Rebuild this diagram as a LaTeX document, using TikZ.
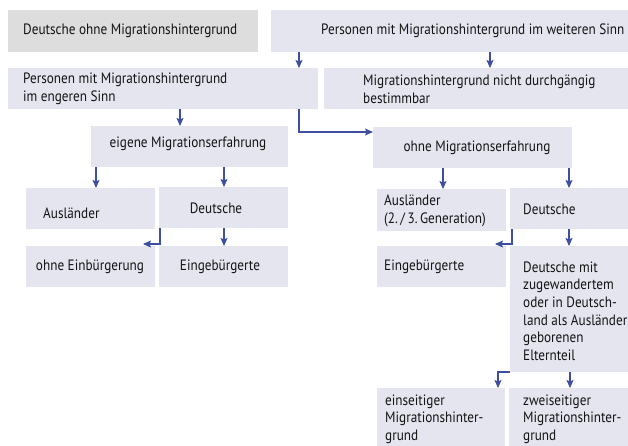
\documentclass[tikz,border=0pt]{standalone}
\usepackage{fontspec}
\setmainfont{PT Sans}[FakeStretch=0.88]
\usetikzlibrary{arrows.meta,calc}
\definecolor{boxfill}{HTML}{E5E5F0}
\definecolor{greyfill}{HTML}{DDDDDD}
\definecolor{arrblue}{HTML}{3D4F9F}
\begin{document}
\begin{tikzpicture}[x=1pt,y=-1pt,
  box/.style={fill=boxfill,draw=none,inner sep=0pt,outer sep=0pt,anchor=north west},
  greybox/.style={box,fill=greyfill},
  txt/.style={inner sep=0pt,align=left,font=\fontsize{15}{17.6}\selectfont,text=black!92},
  arr/.style={draw=arrblue,line width=1.1pt,-{Stealth[length=8pt,width=7pt,inset=1.5pt]}}]
\useasboundingbox (0,0) rectangle (628,446);
% boxes
\node[greybox,minimum width=250pt,minimum height=42pt] (grey) at (8,10) {};
\node[box,minimum width=357pt,minimum height=42pt] (weit) at (271,10) {};
\node[box,minimum width=310pt,minimum height=41pt] (eng) at (8,68) {};
\node[box,minimum width=304pt,minimum height=41pt] (nicht) at (324,68) {};
\node[box,minimum width=197pt,minimum height=41pt] (eig) at (91,126) {};
\node[box,minimum width=199pt,minimum height=41pt] (ohne) at (373,127) {};
\node[box,minimum width=129pt,minimum height=41pt] (ausl) at (26,188) {};
\node[box,minimum width=129pt,minimum height=41pt] (deut) at (159,187) {};
\node[box,minimum width=129pt,minimum height=41pt] (ohneEin) at (26,246) {};
\node[box,minimum width=129pt,minimum height=41pt] (einge) at (159,246) {};
\node[box,minimum width=129pt,minimum height=42pt] (auslG) at (377,189) {};
\node[box,minimum width=118pt,minimum height=41pt] (deutR) at (510,188) {};
\node[box,minimum width=129pt,minimum height=41pt] (eingeR) at (377,246) {};
\node[box,minimum width=118pt,minimum height=126pt] (deutmit) at (510,246) {};
\node[box,minimum width=128pt,minimum height=58pt] (eins) at (377,388) {};
\node[box,minimum width=119pt,minimum height=58pt] (zwei) at (509,388) {};
% texts
\node[txt,anchor=west] (greyT) at (23,31) {Deutsche ohne Migrationshintergrund};
\node[txt,anchor=west] (weitT) at (321,31) {Personen mit Migrationshintergrund im weiteren Sinn};
\node[txt,anchor=west] (engT) at (23,89) {Personen mit Migrationshintergrund\\im engeren Sinn};
\node[txt,anchor=west] (nichtT) at (363,89) {Migrationshintergrund nicht durchgängig\\bestimmbar};
\node[txt] (eigT) at (188,144) {eigene Migrationserfahrung};
\node[txt] (ohneT) at (477,148) {ohne Migrationserfahrung};
\node[txt,anchor=west] (auslT) at (43,213) {Ausländer};
\node[txt] (deutT) at (216,208) {Deutsche};
\node[txt] (ohneEinT) at (90,267) {ohne Einbürgerung};
\node[txt] (eingeT) at (220,267) {Eingebürgerte};
\node[txt,anchor=west] (auslGT) at (384,211) {Ausländer\\(2.\,/\,3.\,Generation)};
\node[txt,anchor=west] (deutRT) at (523,209) {Deutsche};
\node[txt,anchor=west] (eingeRT) at (384,267) {Eingebürgerte};
\node[txt,anchor=west] (deutmitT) at (523,311) {Deutsche mit\\zugewandertem\\oder in Deutsch-\\land als Ausländer\\geborenen\\Elternteil};
\node[txt,anchor=west] (einsT) at (385,419) {einseitiger\\Migrationshinter-\\grund};
\node[txt,anchor=west] (zweiT) at (523,419) {zweiseitiger\\Migrationshinter-\\grund};
% connectors
\draw[arr] (weit.south -| 299,0) -- (eng.north -| 299,0);
\draw[arr] (weit.south -| 490,0) -- (nicht.north -| 490,0);
\draw[arr] (eng.south -| 180,0) -- (eig.north -| 180,0);
\draw[arr] (eng.south -| 299,0) |- (ohne.west |- 0,132);
\draw[arr] (eig.south -| 96,0) -- (ausl.north -| 96,0);
\draw[arr] (eig.south -| 224,0) -- (deut.north -| 224,0);
\draw[arr] (deut.south -| 160,0) |- ($(ohneEin.north east)+(-12,-2)$);
\draw[arr] (deut.south -| 224,0) -- (einge.north -| 224,0);
\draw[arr] (ohne.south -| 443,0) -- (auslG.north -| 443,0);
\draw[arr] (ohne.south -| 569,0) -- (deutR.north -| 569,0);
\draw[arr] (deutR.south -| 512,0) |- ($(eingeR.north east)+(-11,-2)$);
\draw[arr] (deutR.south -| 569,0) -- (deutmit.north -| 569,0);
\draw[arr] (deutmit.south west) -| ($(eins.north east)+(-7,0)$);
\draw[arr] (deutmit.south -| 570,0) -- (zwei.north -| 570,0);
\end{tikzpicture}
\end{document}
